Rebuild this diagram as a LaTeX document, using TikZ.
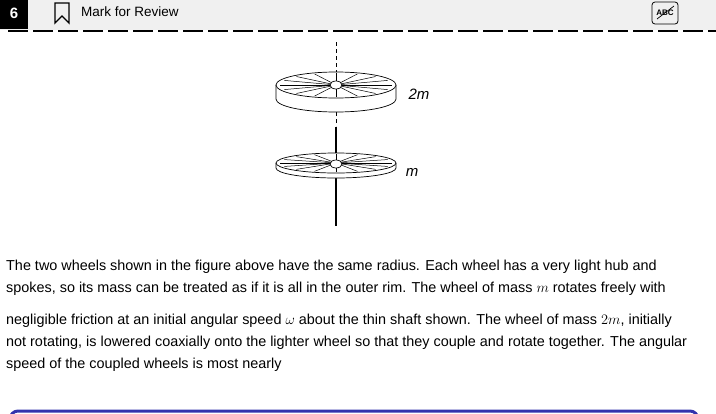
\documentclass[tikz,border=0pt]{standalone}
\usepackage{fontspec}
\setmainfont{Liberation Sans}
\begin{document}
\begin{tikzpicture}[x=1pt,y=-1pt,
  txt/.style={anchor=west,inner sep=0,font=\fontsize{14.4}{16}\selectfont},
  spoke/.style={line width=0.5pt},
  wheelline/.style={line width=0.7pt}]
\useasboundingbox (0,0) rectangle (716,413);
\fill[gray!12] (0,0) rectangle (716,30);
\fill[black] (0,0) rectangle (28,29);
\node[text=white,font=\fontsize{15}{16}\selectfont\bfseries] (num) at (14,13) {6};
\draw[line width=1.3pt] (55,3) -- (55,23) -- (62,16) -- (69,23) -- (69,3) -- cycle;
\node[txt,font=\fontsize{13.5}{15}\selectfont] (mark) at (81,12) {Mark for Review};
\draw[rounded corners=3pt,line width=0.8pt] (652,2) rectangle (678,24);
\node[font=\fontsize{8}{9}\selectfont\bfseries] (abc) at (665,13) {ABC};
\draw[line width=0.7pt] (657,19) -- (674,6);
\draw[line width=2.2pt,dash pattern=on 20pt off 5pt] (8,31) -- (716,31);
% shaft
\draw[line width=0.6pt,dash pattern=on 4pt off 3pt] (336,42) -- (336,72);
\draw[line width=0.6pt,dash pattern=on 4pt off 3pt] (336,112) -- (336,126);
\draw[line width=1.2pt] (336,127) -- (336,156);
\draw[line width=1.2pt] (336,176) -- (336,226);
% top wheel
\fill[white] (276,85) -- (276,99) arc[start angle=180,end angle=360,x radius=60pt,y radius=13pt] -- (396,85) -- cycle;
\draw[wheelline] (276,85) -- (276,99) arc[start angle=180,end angle=360,x radius=60pt,y radius=13pt] -- (396,85);
\draw[wheelline,fill=white] (336,85) ellipse[x radius=60pt,y radius=13pt];
\foreach \a in {0,22.5,...,337.5}
  \draw[spoke] (336,85) -- ++({56*cos(\a)},{12*sin(\a)});
\draw[wheelline,fill=white] (336,85) ellipse[x radius=6pt,y radius=4pt];
\node[font=\fontsize{15}{16}\selectfont\itshape] (l2m) at (419,94) {2m};
% bottom wheel
\draw[wheelline,fill=white] (276,163) -- (276,168) arc[start angle=180,end angle=360,x radius=60pt,y radius=10pt] -- (396,163);
\draw[wheelline,fill=white] (336,163) ellipse[x radius=60pt,y radius=10pt];
\foreach \a in {0,22.5,...,337.5}
  \draw[spoke] (336,163) -- ++({56*cos(\a)},{9*sin(\a)});
\draw[wheelline,fill=white] (336,164) ellipse[x radius=6pt,y radius=4pt];
\node[font=\fontsize{15}{16}\selectfont\itshape] (lm) at (412,172) {m};
% text
\node[txt] (t1) at (6,267) {The two wheels shown in the figure above have the same radius. Each wheel has a very light hub and};
\node[txt] (t2) at (6,289) {spokes, so its mass can be treated as if it is all in the outer rim. The wheel of mass $m$ rotates freely with};
\node[txt] (t3) at (6,321) {negligible friction at an initial angular speed $\omega$ about the thin shaft shown. The wheel of mass $2m$, initially};
\node[txt] (t4) at (6,343) {not rotating, is lowered coaxially onto the lighter wheel so that they couple and rotate together. The angular};
\node[txt] (t5) at (6,365) {speed of the coupled wheels is most nearly};
\draw[blue!60!black!80,line width=3pt,rounded corners=8pt] (10,425) -- (10,411) -- (698,411) -- (698,425);
\end{tikzpicture}
\end{document}
